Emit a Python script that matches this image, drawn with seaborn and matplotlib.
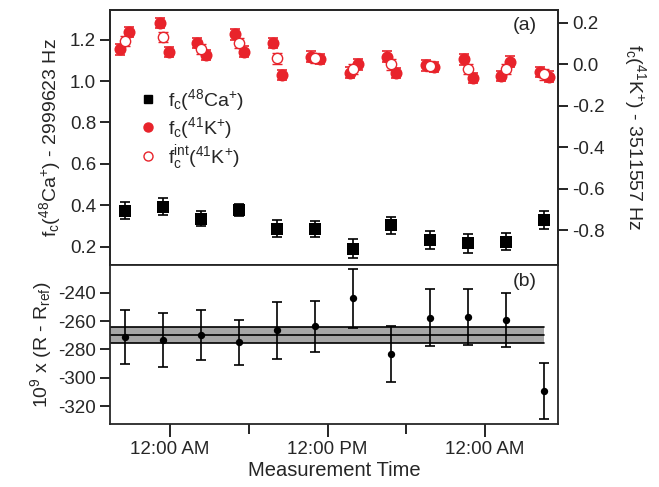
import numpy as np
import pandas as pd
import matplotlib
matplotlib.use('Agg')
import matplotlib.pyplot as plt
import matplotlib.dates as mdates
from matplotlib.lines import Line2D
import seaborn as sns

# measurement times, hours after the first midnight
t_hours = [-3.43, -0.51, 2.36, 5.26, 8.18, 11.07, 13.97, 16.86, 19.79, 22.70, 25.58, 28.50]
ka_hours = [-3.80, -0.76, 2.08, 4.98, 7.85, 10.70, 13.67, 16.56, 19.46, 22.37, 25.24, 28.15]
kb_hours = [-3.12, -0.10, 2.77, 5.64, 8.50, 11.40, 14.31, 17.22, 20.10, 23.04, 25.91, 28.85]

# f_c(48Ca+) - 2999623 Hz
ca = [0.374, 0.393, 0.335, 0.376, 0.287, 0.284, 0.190, 0.302, 0.232, 0.216, 0.224, 0.329]
ca_err = [0.040, 0.040, 0.037, 0.028, 0.042, 0.039, 0.044, 0.042, 0.043, 0.045, 0.043, 0.045]

# f_c(41K+) - 3511557 Hz, before and after each Ca measurement
k_a = [0.072, 0.200, 0.104, 0.144, 0.104, 0.037, -0.040, 0.037, -0.005, 0.024, -0.056, -0.037]
k_b = [0.157, 0.059, 0.045, 0.061, -0.051, 0.027, 0.000, -0.043, -0.012, -0.067, 0.013, -0.059]
k_int = [0.112, 0.131, 0.075, 0.104, 0.029, 0.032, -0.021, 0.000, -0.008, -0.021, -0.021, -0.048]
k_err = 0.025

# 10^9 x (R - Rref)
ratio = [-271.3, -273.6, -269.7, -275.0, -266.6, -263.5, -244.0, -283.3, -257.7, -257.0, -259.3, -309.5]
ratio_err = [19.0, 19.0, 17.5, 16.0, 20.0, 18.0, 20.6, 19.6, 20.0, 19.7, 19.0, 19.6]
ratio_mean = -269.7
ratio_mean_err = 5.6

sns.set_style('ticks')
plt.rcParams['font.family'] = ['Liberation Sans', 'DejaVu Sans']
plt.rcParams['mathtext.fontset'] = 'custom'
plt.rcParams['mathtext.rm'] = 'Liberation Sans'
plt.rcParams['mathtext.it'] = 'Liberation Sans:italic'
plt.rcParams['mathtext.default'] = 'regular'
plt.rcParams['axes.unicode_minus'] = False

red = '#e8232b'
base = pd.Timestamp('2012-01-01 00:00')
to_t = lambda h: [base + pd.Timedelta(hours=x) for x in h]
t = to_t(t_hours)
ta = to_t(ka_hours)
tb = to_t(kb_hours)

fig = plt.figure(figsize=(6.59, 4.87), dpi=100)
ax = fig.add_axes([0.167, 0.456, 0.680, 0.524])
axr = ax.twinx()
axb = fig.add_axes([0.167, 0.129, 0.680, 0.327], sharex=ax)

# top panel: Ca on left axis
ax.errorbar(t, ca, yerr=ca_err, fmt='none', ecolor='black', elinewidth=1.2, capsize=3.5, capthick=1.2)
sns.scatterplot(x=t, y=ca, ax=ax, marker='s', color='black', s=70, linewidth=0, legend=False)

# K on right axis
t_k = ta + tb
v_k = k_a + k_b
axr.errorbar(t_k, v_k, yerr=k_err, fmt='none', ecolor=red, elinewidth=1.2, capsize=3.5, capthick=1.2)
axr.errorbar(t, k_int, yerr=k_err, fmt='none', ecolor=red, elinewidth=1.0, capsize=3.5, capthick=1.0)
sns.scatterplot(x=t_k, y=v_k, ax=axr, marker='o', color=red, s=75, linewidth=0, legend=False)
axr.scatter(t, k_int, marker='o', s=55, facecolor='white', edgecolor=red, linewidth=1.0, zorder=3)

ax.set_ylim(0.111, 1.345)
ax.set_yticks([0.2, 0.4, 0.6, 0.8, 1.0, 1.2])
ax.set_yticklabels(['0.2', '0.4', '0.6', '0.8', '1.0', '1.2'])
axr.set_ylim(-0.966, 0.263)
axr.set_yticks([-0.8, -0.6, -0.4, -0.2, 0.0, 0.2])
axr.set_yticklabels(['-0.8', '-0.6', '-0.4', '-0.2', '0.0', '0.2'])
ax.set_ylabel(r'$f_c(^{48}Ca^{+})$ - 2999623 Hz', fontsize=14, labelpad=5)
axr.set_ylabel(r'$f_c(^{41}K^{+})$ - 3511557 Hz', fontsize=14, rotation=270, labelpad=31)
ax.tick_params(axis='x', which='both', bottom=False, labelbottom=False)
ax.text(0.953, 0.94, '(a)', transform=ax.transAxes, ha='right', va='center', fontsize=14)

# legend
handles = [
    Line2D([], [], marker='s', color='black', linestyle='none', markersize=5.5),
    Line2D([], [], marker='o', color=red, linestyle='none', markersize=6.5),
    Line2D([], [], marker='o', markerfacecolor='white', markeredgecolor=red, linestyle='none', markersize=6.5),
]
labels = [r'$f_c(^{48}Ca^{+})$', r'$f_c(^{41}K^{+})$', r'$f_c^{int}(^{41}K^{+})$']
axr.legend(handles, labels, loc='upper left', bbox_to_anchor=(0.02, 0.765), frameon=False,
           fontsize=14, handletextpad=0.4, labelspacing=0.1, handlelength=1.2)

# bottom panel
x0 = base + pd.Timedelta(hours=-4.57)
x1 = base + pd.Timedelta(hours=t_hours[-1])
axb.fill_between([x0, x1], ratio_mean - ratio_mean_err, ratio_mean + ratio_mean_err,
                 color='#a6a6a6', linewidth=0, zorder=1)
for yy in (ratio_mean - ratio_mean_err, ratio_mean, ratio_mean + ratio_mean_err):
    axb.plot([x0, x1], [yy, yy], color='black', linewidth=1.2, zorder=2)
axb.errorbar(t, ratio, yerr=ratio_err, fmt='none', ecolor='black', elinewidth=1.2, capsize=3.5, capthick=1.2, zorder=3)
sns.scatterplot(x=t, y=ratio, ax=axb, marker='o', color='black', s=28, linewidth=0, zorder=4, legend=False)
axb.set_ylim(-332.7, -220.4)
axb.set_yticks([-320, -300, -280, -260, -240])
axb.set_ylabel(r'$10^{9}$ x (R - $R_{ref}$)', fontsize=14, labelpad=3)
axb.set_xlabel('Measurement Time', fontsize=14.5, labelpad=2)
axb.text(0.953, 0.893, '(b)', transform=axb.transAxes, ha='right', va='center', fontsize=14)

axb.set_xlim(base + pd.Timedelta(hours=-4.57), base + pd.Timedelta(hours=29.56))
axb.xaxis.set_major_locator(mdates.HourLocator(byhour=[0, 12]))
axb.xaxis.set_minor_locator(mdates.HourLocator(byhour=[6, 18]))
axb.xaxis.set_major_formatter(mdates.DateFormatter('%I:%M %p'))

for a in (ax, axr, axb):
    for s in a.spines.values():
        s.set_linewidth(1.3)
        s.set_visible(True)
    a.tick_params(which='both', direction='out', width=1.2, length=7, labelsize=13.5, color='black', pad=3)
axb.tick_params(axis='x', which='major', length=9)
axb.tick_params(axis='x', which='minor', length=7)

fig.savefig('out.png', dpi=100)
